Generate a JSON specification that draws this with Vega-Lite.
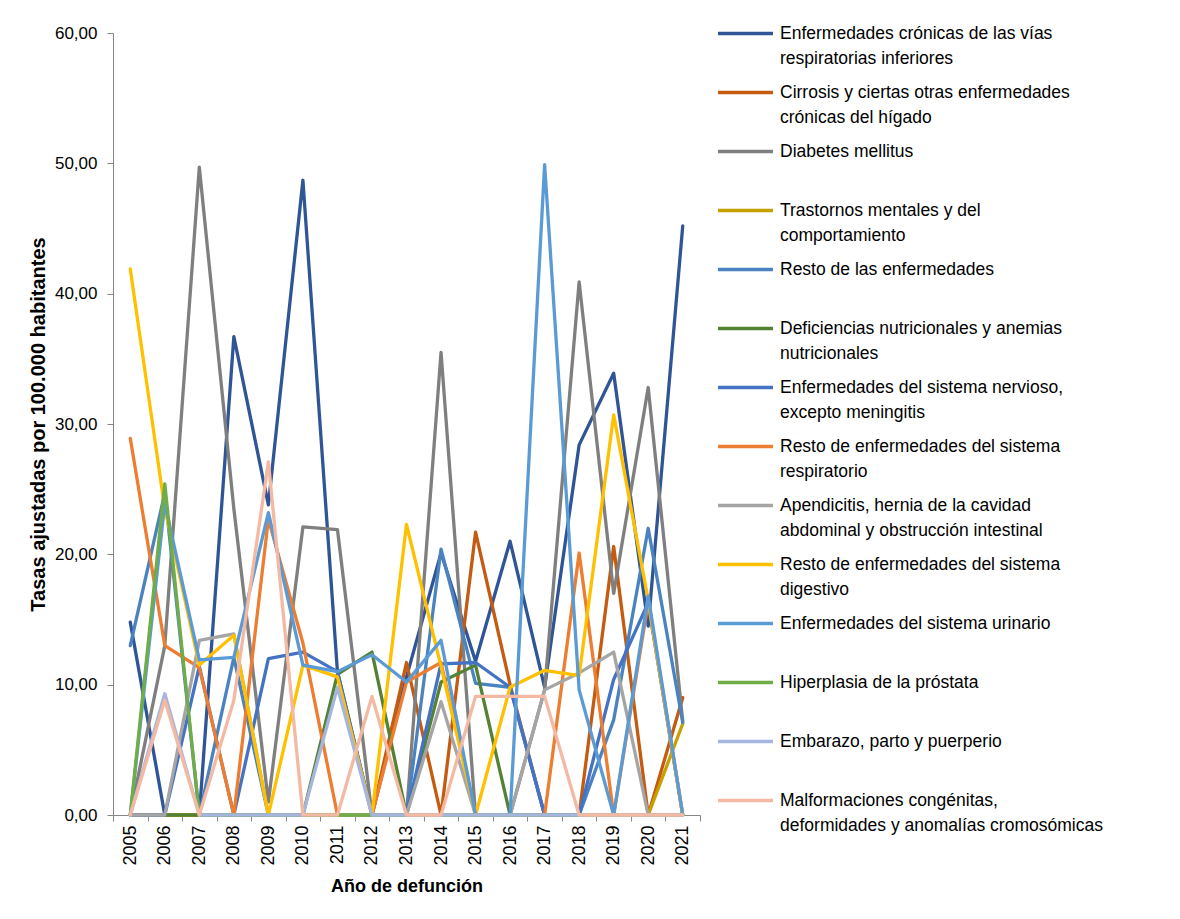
{
  "$schema": "https://vega.github.io/schema/vega-lite/v6.json",
  "width": 587,
  "height": 782,
  "padding": {"left": 28, "top": 18, "right": 0, "bottom": 0},
  "background": "white",
  "data": {
    "values": [
      {"serie": "Enfermedades crónicas de las vías|respiratorias inferiores", "anio": "2005", "tasa": 14.8},
      {"serie": "Enfermedades crónicas de las vías|respiratorias inferiores", "anio": "2006", "tasa": 0},
      {"serie": "Enfermedades crónicas de las vías|respiratorias inferiores", "anio": "2007", "tasa": 0},
      {"serie": "Enfermedades crónicas de las vías|respiratorias inferiores", "anio": "2008", "tasa": 36.7},
      {"serie": "Enfermedades crónicas de las vías|respiratorias inferiores", "anio": "2009", "tasa": 23.8},
      {"serie": "Enfermedades crónicas de las vías|respiratorias inferiores", "anio": "2010", "tasa": 48.7},
      {"serie": "Enfermedades crónicas de las vías|respiratorias inferiores", "anio": "2011", "tasa": 11.0},
      {"serie": "Enfermedades crónicas de las vías|respiratorias inferiores", "anio": "2012", "tasa": 0},
      {"serie": "Enfermedades crónicas de las vías|respiratorias inferiores", "anio": "2013", "tasa": 10.6},
      {"serie": "Enfermedades crónicas de las vías|respiratorias inferiores", "anio": "2014", "tasa": 20.1},
      {"serie": "Enfermedades crónicas de las vías|respiratorias inferiores", "anio": "2015", "tasa": 11.8},
      {"serie": "Enfermedades crónicas de las vías|respiratorias inferiores", "anio": "2016", "tasa": 21.0},
      {"serie": "Enfermedades crónicas de las vías|respiratorias inferiores", "anio": "2017", "tasa": 9.8},
      {"serie": "Enfermedades crónicas de las vías|respiratorias inferiores", "anio": "2018", "tasa": 28.4},
      {"serie": "Enfermedades crónicas de las vías|respiratorias inferiores", "anio": "2019", "tasa": 33.9},
      {"serie": "Enfermedades crónicas de las vías|respiratorias inferiores", "anio": "2020", "tasa": 14.5},
      {"serie": "Enfermedades crónicas de las vías|respiratorias inferiores", "anio": "2021", "tasa": 45.2},

      {"serie": "Cirrosis y ciertas otras enfermedades|crónicas del hígado", "anio": "2005", "tasa": 0},
      {"serie": "Cirrosis y ciertas otras enfermedades|crónicas del hígado", "anio": "2006", "tasa": 0},
      {"serie": "Cirrosis y ciertas otras enfermedades|crónicas del hígado", "anio": "2007", "tasa": 0},
      {"serie": "Cirrosis y ciertas otras enfermedades|crónicas del hígado", "anio": "2008", "tasa": 0},
      {"serie": "Cirrosis y ciertas otras enfermedades|crónicas del hígado", "anio": "2009", "tasa": 0},
      {"serie": "Cirrosis y ciertas otras enfermedades|crónicas del hígado", "anio": "2010", "tasa": 0},
      {"serie": "Cirrosis y ciertas otras enfermedades|crónicas del hígado", "anio": "2011", "tasa": 0},
      {"serie": "Cirrosis y ciertas otras enfermedades|crónicas del hígado", "anio": "2012", "tasa": 0},
      {"serie": "Cirrosis y ciertas otras enfermedades|crónicas del hígado", "anio": "2013", "tasa": 11.7},
      {"serie": "Cirrosis y ciertas otras enfermedades|crónicas del hígado", "anio": "2014", "tasa": 0},
      {"serie": "Cirrosis y ciertas otras enfermedades|crónicas del hígado", "anio": "2015", "tasa": 21.7},
      {"serie": "Cirrosis y ciertas otras enfermedades|crónicas del hígado", "anio": "2016", "tasa": 10.0},
      {"serie": "Cirrosis y ciertas otras enfermedades|crónicas del hígado", "anio": "2017", "tasa": 0},
      {"serie": "Cirrosis y ciertas otras enfermedades|crónicas del hígado", "anio": "2018", "tasa": 0},
      {"serie": "Cirrosis y ciertas otras enfermedades|crónicas del hígado", "anio": "2019", "tasa": 20.6},
      {"serie": "Cirrosis y ciertas otras enfermedades|crónicas del hígado", "anio": "2020", "tasa": 0},
      {"serie": "Cirrosis y ciertas otras enfermedades|crónicas del hígado", "anio": "2021", "tasa": 9.0},

      {"serie": "Diabetes mellitus", "anio": "2005", "tasa": 0},
      {"serie": "Diabetes mellitus", "anio": "2006", "tasa": 13.0},
      {"serie": "Diabetes mellitus", "anio": "2007", "tasa": 49.7},
      {"serie": "Diabetes mellitus", "anio": "2008", "tasa": 23.5},
      {"serie": "Diabetes mellitus", "anio": "2009", "tasa": 1.0},
      {"serie": "Diabetes mellitus", "anio": "2010", "tasa": 22.1},
      {"serie": "Diabetes mellitus", "anio": "2011", "tasa": 21.9},
      {"serie": "Diabetes mellitus", "anio": "2012", "tasa": 0},
      {"serie": "Diabetes mellitus", "anio": "2013", "tasa": 0},
      {"serie": "Diabetes mellitus", "anio": "2014", "tasa": 35.5},
      {"serie": "Diabetes mellitus", "anio": "2015", "tasa": 0},
      {"serie": "Diabetes mellitus", "anio": "2016", "tasa": 0},
      {"serie": "Diabetes mellitus", "anio": "2017", "tasa": 9.6},
      {"serie": "Diabetes mellitus", "anio": "2018", "tasa": 40.9},
      {"serie": "Diabetes mellitus", "anio": "2019", "tasa": 17.0},
      {"serie": "Diabetes mellitus", "anio": "2020", "tasa": 32.8},
      {"serie": "Diabetes mellitus", "anio": "2021", "tasa": 7.2},

      {"serie": "Trastornos mentales y del|comportamiento", "anio": "2005", "tasa": 0},
      {"serie": "Trastornos mentales y del|comportamiento", "anio": "2006", "tasa": 0},
      {"serie": "Trastornos mentales y del|comportamiento", "anio": "2007", "tasa": 0},
      {"serie": "Trastornos mentales y del|comportamiento", "anio": "2008", "tasa": 0},
      {"serie": "Trastornos mentales y del|comportamiento", "anio": "2009", "tasa": 0},
      {"serie": "Trastornos mentales y del|comportamiento", "anio": "2010", "tasa": 0},
      {"serie": "Trastornos mentales y del|comportamiento", "anio": "2011", "tasa": 0},
      {"serie": "Trastornos mentales y del|comportamiento", "anio": "2012", "tasa": 0},
      {"serie": "Trastornos mentales y del|comportamiento", "anio": "2013", "tasa": 0},
      {"serie": "Trastornos mentales y del|comportamiento", "anio": "2014", "tasa": 0},
      {"serie": "Trastornos mentales y del|comportamiento", "anio": "2015", "tasa": 0},
      {"serie": "Trastornos mentales y del|comportamiento", "anio": "2016", "tasa": 0},
      {"serie": "Trastornos mentales y del|comportamiento", "anio": "2017", "tasa": 0},
      {"serie": "Trastornos mentales y del|comportamiento", "anio": "2018", "tasa": 0},
      {"serie": "Trastornos mentales y del|comportamiento", "anio": "2019", "tasa": 0},
      {"serie": "Trastornos mentales y del|comportamiento", "anio": "2020", "tasa": 0},
      {"serie": "Trastornos mentales y del|comportamiento", "anio": "2021", "tasa": 7.0},

      {"serie": "Resto de las enfermedades", "anio": "2005", "tasa": 13.0},
      {"serie": "Resto de las enfermedades", "anio": "2006", "tasa": 24.7},
      {"serie": "Resto de las enfermedades", "anio": "2007", "tasa": 0},
      {"serie": "Resto de las enfermedades", "anio": "2008", "tasa": 12.1},
      {"serie": "Resto de las enfermedades", "anio": "2009", "tasa": 0},
      {"serie": "Resto de las enfermedades", "anio": "2010", "tasa": 0},
      {"serie": "Resto de las enfermedades", "anio": "2011", "tasa": 0},
      {"serie": "Resto de las enfermedades", "anio": "2012", "tasa": 0},
      {"serie": "Resto de las enfermedades", "anio": "2013", "tasa": 0},
      {"serie": "Resto de las enfermedades", "anio": "2014", "tasa": 20.4},
      {"serie": "Resto de las enfermedades", "anio": "2015", "tasa": 10.1},
      {"serie": "Resto de las enfermedades", "anio": "2016", "tasa": 9.8},
      {"serie": "Resto de las enfermedades", "anio": "2017", "tasa": 0},
      {"serie": "Resto de las enfermedades", "anio": "2018", "tasa": 0},
      {"serie": "Resto de las enfermedades", "anio": "2019", "tasa": 7.3},
      {"serie": "Resto de las enfermedades", "anio": "2020", "tasa": 22.0},
      {"serie": "Resto de las enfermedades", "anio": "2021", "tasa": 7.1},

      {"serie": "Deficiencias nutricionales y anemias|nutricionales", "anio": "2005", "tasa": 0},
      {"serie": "Deficiencias nutricionales y anemias|nutricionales", "anio": "2006", "tasa": 0},
      {"serie": "Deficiencias nutricionales y anemias|nutricionales", "anio": "2007", "tasa": 0},
      {"serie": "Deficiencias nutricionales y anemias|nutricionales", "anio": "2008", "tasa": 0},
      {"serie": "Deficiencias nutricionales y anemias|nutricionales", "anio": "2009", "tasa": 0},
      {"serie": "Deficiencias nutricionales y anemias|nutricionales", "anio": "2010", "tasa": 0},
      {"serie": "Deficiencias nutricionales y anemias|nutricionales", "anio": "2011", "tasa": 10.8},
      {"serie": "Deficiencias nutricionales y anemias|nutricionales", "anio": "2012", "tasa": 12.5},
      {"serie": "Deficiencias nutricionales y anemias|nutricionales", "anio": "2013", "tasa": 0},
      {"serie": "Deficiencias nutricionales y anemias|nutricionales", "anio": "2014", "tasa": 10.2},
      {"serie": "Deficiencias nutricionales y anemias|nutricionales", "anio": "2015", "tasa": 11.5},
      {"serie": "Deficiencias nutricionales y anemias|nutricionales", "anio": "2016", "tasa": 0},
      {"serie": "Deficiencias nutricionales y anemias|nutricionales", "anio": "2017", "tasa": 0},
      {"serie": "Deficiencias nutricionales y anemias|nutricionales", "anio": "2018", "tasa": 0},
      {"serie": "Deficiencias nutricionales y anemias|nutricionales", "anio": "2019", "tasa": 0},
      {"serie": "Deficiencias nutricionales y anemias|nutricionales", "anio": "2020", "tasa": 0},
      {"serie": "Deficiencias nutricionales y anemias|nutricionales", "anio": "2021", "tasa": 0},

      {"serie": "Enfermedades del sistema nervioso,|excepto meningitis", "anio": "2005", "tasa": 0},
      {"serie": "Enfermedades del sistema nervioso,|excepto meningitis", "anio": "2006", "tasa": 0},
      {"serie": "Enfermedades del sistema nervioso,|excepto meningitis", "anio": "2007", "tasa": 11.4},
      {"serie": "Enfermedades del sistema nervioso,|excepto meningitis", "anio": "2008", "tasa": 0},
      {"serie": "Enfermedades del sistema nervioso,|excepto meningitis", "anio": "2009", "tasa": 12.0},
      {"serie": "Enfermedades del sistema nervioso,|excepto meningitis", "anio": "2010", "tasa": 12.5},
      {"serie": "Enfermedades del sistema nervioso,|excepto meningitis", "anio": "2011", "tasa": 11.0},
      {"serie": "Enfermedades del sistema nervioso,|excepto meningitis", "anio": "2012", "tasa": 0},
      {"serie": "Enfermedades del sistema nervioso,|excepto meningitis", "anio": "2013", "tasa": 0},
      {"serie": "Enfermedades del sistema nervioso,|excepto meningitis", "anio": "2014", "tasa": 11.6},
      {"serie": "Enfermedades del sistema nervioso,|excepto meningitis", "anio": "2015", "tasa": 11.7},
      {"serie": "Enfermedades del sistema nervioso,|excepto meningitis", "anio": "2016", "tasa": 9.8},
      {"serie": "Enfermedades del sistema nervioso,|excepto meningitis", "anio": "2017", "tasa": 0},
      {"serie": "Enfermedades del sistema nervioso,|excepto meningitis", "anio": "2018", "tasa": 0},
      {"serie": "Enfermedades del sistema nervioso,|excepto meningitis", "anio": "2019", "tasa": 10.4},
      {"serie": "Enfermedades del sistema nervioso,|excepto meningitis", "anio": "2020", "tasa": 16.3},
      {"serie": "Enfermedades del sistema nervioso,|excepto meningitis", "anio": "2021", "tasa": 0},

      {"serie": "Resto de enfermedades del sistema|respiratorio", "anio": "2005", "tasa": 28.9},
      {"serie": "Resto de enfermedades del sistema|respiratorio", "anio": "2006", "tasa": 13.0},
      {"serie": "Resto de enfermedades del sistema|respiratorio", "anio": "2007", "tasa": 11.3},
      {"serie": "Resto de enfermedades del sistema|respiratorio", "anio": "2008", "tasa": 0},
      {"serie": "Resto de enfermedades del sistema|respiratorio", "anio": "2009", "tasa": 22.7},
      {"serie": "Resto de enfermedades del sistema|respiratorio", "anio": "2010", "tasa": 13.2},
      {"serie": "Resto de enfermedades del sistema|respiratorio", "anio": "2011", "tasa": 0},
      {"serie": "Resto de enfermedades del sistema|respiratorio", "anio": "2012", "tasa": 0},
      {"serie": "Resto de enfermedades del sistema|respiratorio", "anio": "2013", "tasa": 10.2},
      {"serie": "Resto de enfermedades del sistema|respiratorio", "anio": "2014", "tasa": 11.7},
      {"serie": "Resto de enfermedades del sistema|respiratorio", "anio": "2015", "tasa": 0},
      {"serie": "Resto de enfermedades del sistema|respiratorio", "anio": "2016", "tasa": 0},
      {"serie": "Resto de enfermedades del sistema|respiratorio", "anio": "2017", "tasa": 0},
      {"serie": "Resto de enfermedades del sistema|respiratorio", "anio": "2018", "tasa": 20.1},
      {"serie": "Resto de enfermedades del sistema|respiratorio", "anio": "2019", "tasa": 0},
      {"serie": "Resto de enfermedades del sistema|respiratorio", "anio": "2020", "tasa": 16.3},
      {"serie": "Resto de enfermedades del sistema|respiratorio", "anio": "2021", "tasa": 0},

      {"serie": "Apendicitis, hernia de la cavidad|abdominal y obstrucción intestinal", "anio": "2005", "tasa": 0},
      {"serie": "Apendicitis, hernia de la cavidad|abdominal y obstrucción intestinal", "anio": "2006", "tasa": 0},
      {"serie": "Apendicitis, hernia de la cavidad|abdominal y obstrucción intestinal", "anio": "2007", "tasa": 13.4},
      {"serie": "Apendicitis, hernia de la cavidad|abdominal y obstrucción intestinal", "anio": "2008", "tasa": 13.9},
      {"serie": "Apendicitis, hernia de la cavidad|abdominal y obstrucción intestinal", "anio": "2009", "tasa": 0},
      {"serie": "Apendicitis, hernia de la cavidad|abdominal y obstrucción intestinal", "anio": "2010", "tasa": 0},
      {"serie": "Apendicitis, hernia de la cavidad|abdominal y obstrucción intestinal", "anio": "2011", "tasa": 0},
      {"serie": "Apendicitis, hernia de la cavidad|abdominal y obstrucción intestinal", "anio": "2012", "tasa": 0},
      {"serie": "Apendicitis, hernia de la cavidad|abdominal y obstrucción intestinal", "anio": "2013", "tasa": 0},
      {"serie": "Apendicitis, hernia de la cavidad|abdominal y obstrucción intestinal", "anio": "2014", "tasa": 8.7},
      {"serie": "Apendicitis, hernia de la cavidad|abdominal y obstrucción intestinal", "anio": "2015", "tasa": 0},
      {"serie": "Apendicitis, hernia de la cavidad|abdominal y obstrucción intestinal", "anio": "2016", "tasa": 0},
      {"serie": "Apendicitis, hernia de la cavidad|abdominal y obstrucción intestinal", "anio": "2017", "tasa": 9.6},
      {"serie": "Apendicitis, hernia de la cavidad|abdominal y obstrucción intestinal", "anio": "2018", "tasa": 10.9},
      {"serie": "Apendicitis, hernia de la cavidad|abdominal y obstrucción intestinal", "anio": "2019", "tasa": 12.5},
      {"serie": "Apendicitis, hernia de la cavidad|abdominal y obstrucción intestinal", "anio": "2020", "tasa": 0},
      {"serie": "Apendicitis, hernia de la cavidad|abdominal y obstrucción intestinal", "anio": "2021", "tasa": 0},

      {"serie": "Resto de enfermedades del sistema|digestivo", "anio": "2005", "tasa": 41.9},
      {"serie": "Resto de enfermedades del sistema|digestivo", "anio": "2006", "tasa": 23.5},
      {"serie": "Resto de enfermedades del sistema|digestivo", "anio": "2007", "tasa": 11.5},
      {"serie": "Resto de enfermedades del sistema|digestivo", "anio": "2008", "tasa": 13.8},
      {"serie": "Resto de enfermedades del sistema|digestivo", "anio": "2009", "tasa": 0},
      {"serie": "Resto de enfermedades del sistema|digestivo", "anio": "2010", "tasa": 11.5},
      {"serie": "Resto de enfermedades del sistema|digestivo", "anio": "2011", "tasa": 10.6},
      {"serie": "Resto de enfermedades del sistema|digestivo", "anio": "2012", "tasa": 0},
      {"serie": "Resto de enfermedades del sistema|digestivo", "anio": "2013", "tasa": 22.3},
      {"serie": "Resto de enfermedades del sistema|digestivo", "anio": "2014", "tasa": 11.4},
      {"serie": "Resto de enfermedades del sistema|digestivo", "anio": "2015", "tasa": 0},
      {"serie": "Resto de enfermedades del sistema|digestivo", "anio": "2016", "tasa": 9.8},
      {"serie": "Resto de enfermedades del sistema|digestivo", "anio": "2017", "tasa": 11.1},
      {"serie": "Resto de enfermedades del sistema|digestivo", "anio": "2018", "tasa": 10.7},
      {"serie": "Resto de enfermedades del sistema|digestivo", "anio": "2019", "tasa": 30.7},
      {"serie": "Resto de enfermedades del sistema|digestivo", "anio": "2020", "tasa": 16.5},
      {"serie": "Resto de enfermedades del sistema|digestivo", "anio": "2021", "tasa": 0},

      {"serie": "Enfermedades del sistema urinario", "anio": "2005", "tasa": 0},
      {"serie": "Enfermedades del sistema urinario", "anio": "2006", "tasa": 23.9},
      {"serie": "Enfermedades del sistema urinario", "anio": "2007", "tasa": 11.9},
      {"serie": "Enfermedades del sistema urinario", "anio": "2008", "tasa": 12.1},
      {"serie": "Enfermedades del sistema urinario", "anio": "2009", "tasa": 23.2},
      {"serie": "Enfermedades del sistema urinario", "anio": "2010", "tasa": 11.5},
      {"serie": "Enfermedades del sistema urinario", "anio": "2011", "tasa": 11.0},
      {"serie": "Enfermedades del sistema urinario", "anio": "2012", "tasa": 12.3},
      {"serie": "Enfermedades del sistema urinario", "anio": "2013", "tasa": 10.2},
      {"serie": "Enfermedades del sistema urinario", "anio": "2014", "tasa": 13.4},
      {"serie": "Enfermedades del sistema urinario", "anio": "2015", "tasa": 0},
      {"serie": "Enfermedades del sistema urinario", "anio": "2016", "tasa": 0},
      {"serie": "Enfermedades del sistema urinario", "anio": "2017", "tasa": 49.9},
      {"serie": "Enfermedades del sistema urinario", "anio": "2018", "tasa": 9.6},
      {"serie": "Enfermedades del sistema urinario", "anio": "2019", "tasa": 0},
      {"serie": "Enfermedades del sistema urinario", "anio": "2020", "tasa": 16.8},
      {"serie": "Enfermedades del sistema urinario", "anio": "2021", "tasa": 0},

      {"serie": "Hiperplasia de la próstata", "anio": "2005", "tasa": 0},
      {"serie": "Hiperplasia de la próstata", "anio": "2006", "tasa": 25.4},
      {"serie": "Hiperplasia de la próstata", "anio": "2007", "tasa": 0},
      {"serie": "Hiperplasia de la próstata", "anio": "2008", "tasa": 0},
      {"serie": "Hiperplasia de la próstata", "anio": "2009", "tasa": 0},
      {"serie": "Hiperplasia de la próstata", "anio": "2010", "tasa": 0},
      {"serie": "Hiperplasia de la próstata", "anio": "2011", "tasa": 0},
      {"serie": "Hiperplasia de la próstata", "anio": "2012", "tasa": 0},
      {"serie": "Hiperplasia de la próstata", "anio": "2013", "tasa": 0},
      {"serie": "Hiperplasia de la próstata", "anio": "2014", "tasa": 0},
      {"serie": "Hiperplasia de la próstata", "anio": "2015", "tasa": 0},
      {"serie": "Hiperplasia de la próstata", "anio": "2016", "tasa": 0},
      {"serie": "Hiperplasia de la próstata", "anio": "2017", "tasa": 0},
      {"serie": "Hiperplasia de la próstata", "anio": "2018", "tasa": 0},
      {"serie": "Hiperplasia de la próstata", "anio": "2019", "tasa": 0},
      {"serie": "Hiperplasia de la próstata", "anio": "2020", "tasa": 0},
      {"serie": "Hiperplasia de la próstata", "anio": "2021", "tasa": 0},

      {"serie": "Embarazo, parto y puerperio", "anio": "2005", "tasa": 0},
      {"serie": "Embarazo, parto y puerperio", "anio": "2006", "tasa": 9.3},
      {"serie": "Embarazo, parto y puerperio", "anio": "2007", "tasa": 0},
      {"serie": "Embarazo, parto y puerperio", "anio": "2008", "tasa": 0},
      {"serie": "Embarazo, parto y puerperio", "anio": "2009", "tasa": 0},
      {"serie": "Embarazo, parto y puerperio", "anio": "2010", "tasa": 0},
      {"serie": "Embarazo, parto y puerperio", "anio": "2011", "tasa": 9.8},
      {"serie": "Embarazo, parto y puerperio", "anio": "2012", "tasa": 0},
      {"serie": "Embarazo, parto y puerperio", "anio": "2013", "tasa": 0},
      {"serie": "Embarazo, parto y puerperio", "anio": "2014", "tasa": 0},
      {"serie": "Embarazo, parto y puerperio", "anio": "2015", "tasa": 0},
      {"serie": "Embarazo, parto y puerperio", "anio": "2016", "tasa": 0},
      {"serie": "Embarazo, parto y puerperio", "anio": "2017", "tasa": 0},
      {"serie": "Embarazo, parto y puerperio", "anio": "2018", "tasa": 0},
      {"serie": "Embarazo, parto y puerperio", "anio": "2019", "tasa": 0},
      {"serie": "Embarazo, parto y puerperio", "anio": "2020", "tasa": 0},
      {"serie": "Embarazo, parto y puerperio", "anio": "2021", "tasa": 0},

      {"serie": "Malformaciones congénitas,|deformidades y anomalías cromosómicas", "anio": "2005", "tasa": 0},
      {"serie": "Malformaciones congénitas,|deformidades y anomalías cromosómicas", "anio": "2006", "tasa": 8.8},
      {"serie": "Malformaciones congénitas,|deformidades y anomalías cromosómicas", "anio": "2007", "tasa": 0},
      {"serie": "Malformaciones congénitas,|deformidades y anomalías cromosómicas", "anio": "2008", "tasa": 8.8},
      {"serie": "Malformaciones congénitas,|deformidades y anomalías cromosómicas", "anio": "2009", "tasa": 27.1},
      {"serie": "Malformaciones congénitas,|deformidades y anomalías cromosómicas", "anio": "2010", "tasa": 0},
      {"serie": "Malformaciones congénitas,|deformidades y anomalías cromosómicas", "anio": "2011", "tasa": 0},
      {"serie": "Malformaciones congénitas,|deformidades y anomalías cromosómicas", "anio": "2012", "tasa": 9.1},
      {"serie": "Malformaciones congénitas,|deformidades y anomalías cromosómicas", "anio": "2013", "tasa": 0},
      {"serie": "Malformaciones congénitas,|deformidades y anomalías cromosómicas", "anio": "2014", "tasa": 0},
      {"serie": "Malformaciones congénitas,|deformidades y anomalías cromosómicas", "anio": "2015", "tasa": 9.1},
      {"serie": "Malformaciones congénitas,|deformidades y anomalías cromosómicas", "anio": "2016", "tasa": 9.1},
      {"serie": "Malformaciones congénitas,|deformidades y anomalías cromosómicas", "anio": "2017", "tasa": 9.1},
      {"serie": "Malformaciones congénitas,|deformidades y anomalías cromosómicas", "anio": "2018", "tasa": 0},
      {"serie": "Malformaciones congénitas,|deformidades y anomalías cromosómicas", "anio": "2019", "tasa": 0},
      {"serie": "Malformaciones congénitas,|deformidades y anomalías cromosómicas", "anio": "2020", "tasa": 0},
      {"serie": "Malformaciones congénitas,|deformidades y anomalías cromosómicas", "anio": "2021", "tasa": 0}
    ]
  },
  "mark": {"type": "line", "strokeWidth": 3.3, "strokeJoin": "round", "strokeCap": "round"},
  "encoding": {
    "x": {
      "field": "anio",
      "type": "ordinal",
      "bandPosition": 0.5,
      "scale": {"type": "band", "paddingInner": 0, "paddingOuter": 0},
      "axis": {
        "title": "Año de defunción",
        "titleFont": "Liberation Sans",
        "titleFontSize": 18,
        "titleFontWeight": "bold",
        "titleColor": "black",
        "titlePadding": 12,
        "labelAngle": -90,
        "labelFont": "Liberation Sans",
        "labelFontSize": 18,
        "labelColor": "black",
        "labelPadding": 4,
        "tickBand": "extent",
        "tickSize": 6,
        "tickColor": "#868686",
        "domainColor": "#868686",
        "grid": false
      }
    },
    "y": {
      "field": "tasa",
      "type": "quantitative",
      "scale": {"domain": [0, 60], "nice": false},
      "axis": {
        "title": "Tasas ajustadas por 100.000 habitantes",
        "titleFont": "Liberation Sans",
        "titleFontSize": 20,
        "titleFontWeight": "bold",
        "titleColor": "black",
        "titlePadding": 6,
        "values": [0, 10, 20, 30, 40, 50, 60],
        "labelExpr": "replace(format(datum.value, '.2f'), '.', ',')",
        "labelFont": "Liberation Sans",
        "labelFontSize": 17,
        "labelColor": "black",
        "labelPadding": 10,
        "tickSize": 6,
        "tickColor": "#868686",
        "domainColor": "#868686",
        "grid": false
      }
    },
    "color": {
      "field": "serie",
      "type": "nominal",
      "scale": {
        "domain": [
          "Enfermedades crónicas de las vías|respiratorias inferiores",
          "Cirrosis y ciertas otras enfermedades|crónicas del hígado",
          "Diabetes mellitus",
          "Trastornos mentales y del|comportamiento",
          "Resto de las enfermedades",
          "Deficiencias nutricionales y anemias|nutricionales",
          "Enfermedades del sistema nervioso,|excepto meningitis",
          "Resto de enfermedades del sistema|respiratorio",
          "Apendicitis, hernia de la cavidad|abdominal y obstrucción intestinal",
          "Resto de enfermedades del sistema|digestivo",
          "Enfermedades del sistema urinario",
          "Hiperplasia de la próstata",
          "Embarazo, parto y puerperio",
          "Malformaciones congénitas,|deformidades y anomalías cromosómicas"
        ],
        "range": ["#2F5597", "#C55A11", "#7F7F7F", "#C8A000", "#4A83BF", "#548235", "#4472C4", "#ED7D31", "#A5A5A5", "#FFC000", "#5B9BD5", "#70AD47", "#A5B5DE", "#F4B9A2"]
      },
      "legend": {
        "title": null,
        "orient": "none",
        "legendX": 617,
        "legendY": -15,
        "padding": 0,
        "symbolType": "M-2,0H2",
        "symbolSize": 756,
        "symbolStrokeWidth": 3.5,
        "labelFont": "Liberation Sans",
        "labelFontSize": 17.5,
        "labelColor": "black",
        "labelLimit": 420,
        "labelOffset": 19,
        "labelBaseline": "middle",
        "rowPadding": 10,
        "gridAlign": "all",
        "labelExpr": "split(datum.label, '|')",
        "encode": {"labels": {"update": {"lineHeight": {"value": 25}}}}
      }
    }
  },
  "config": {"view": {"stroke": null}}
}
